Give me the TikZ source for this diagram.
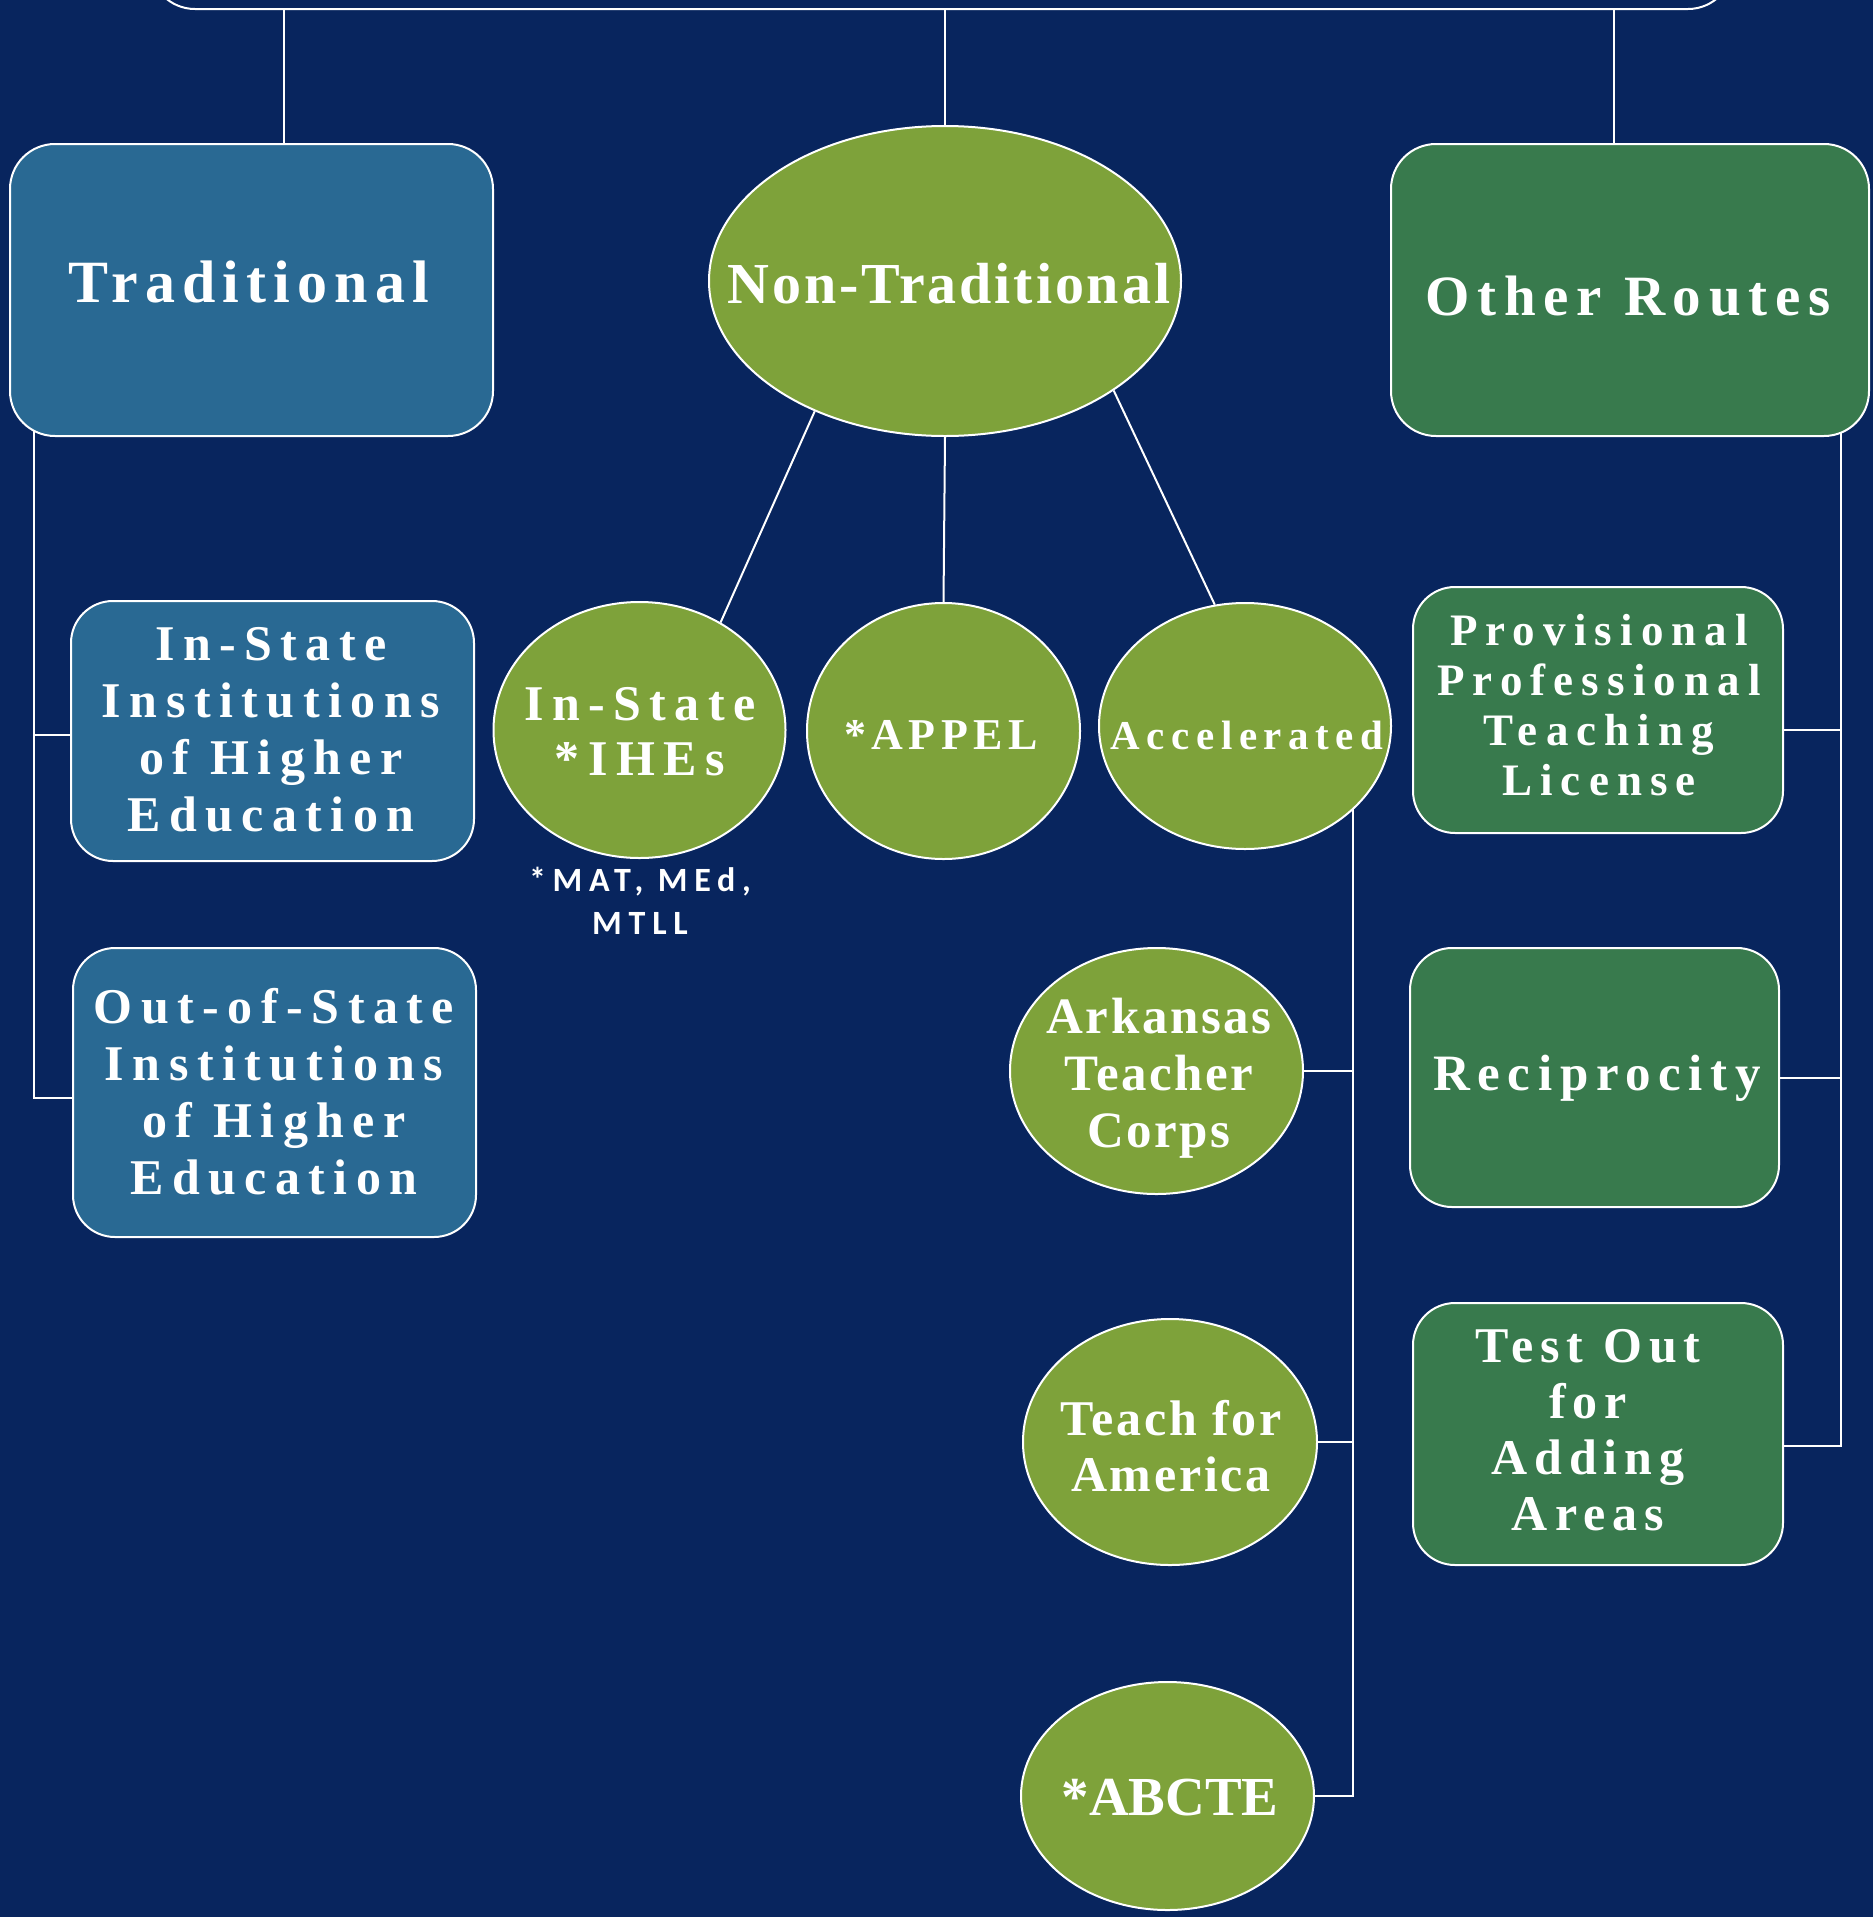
\documentclass[tikz,border=0pt]{standalone}
\usepackage{fontspec}
\setmainfont{Liberation Serif}
\newfontfamily\calib{Carlito}
\usetikzlibrary{shapes.geometric}
\definecolor{bgc}{RGB}{8,37,94}
\definecolor{bluec}{RGB}{41,105,147}
\definecolor{greenc}{RGB}{126,162,58}
\definecolor{dgreenc}{RGB}{56,122,77}
\pgfdeclarelayer{back}
\pgfdeclarelayer{lines}
\pgfsetlayers{back,lines,main}
\newcommand{\myfs}[3]{\fontsize{#1}{#2}\selectfont\bfseries\addfontfeature{LetterSpace=#3}}
\newcommand{\myfc}[3]{\calib\fontsize{#1}{#2}\selectfont\bfseries\addfontfeature{LetterSpace=#3}}
\tikzset{
  shapebase/.style={draw=white, line width=2pt, inner sep=0pt},
  bbox/.style={shapebase, rectangle, rounded corners=45pt, fill=bluec},
  gbox/.style={shapebase, rectangle, rounded corners=42pt, fill=dgreenc},
  gell/.style={shapebase, ellipse, fill=greenc},
  txt/.style={text=white, inner sep=0pt, align=center},
  conn/.style={draw=white, line width=2pt},
}
\begin{document}
\begin{tikzpicture}[x=1pt,y=-1pt]
\useasboundingbox (0,0) rectangle (1873,1917);
\begin{pgfonlayer}{back}
\fill[bgc] (0,0) rectangle (1873,1917);
\end{pgfonlayer}

% shapes
\node[shapebase, rounded corners=45pt, fill=bgc, minimum width=1583pt, minimum height=108pt] (top) at (941.5,-45) {};
\node[bbox, rounded corners=45pt, minimum width=483pt, minimum height=292pt] (trad) at (251.5,290) {};
\node[gell, minimum width=472pt, minimum height=310pt] (nt) at (945,281) {};
\node[gbox, fill=dgreenc, rounded corners=45pt, minimum width=478pt, minimum height=292pt] (oth) at (1630,290) {};

\node[bbox, rounded corners=42pt, minimum width=403pt, minimum height=260pt] (ins) at (272.5,731) {};
\node[bbox, rounded corners=42pt, minimum width=403pt, minimum height=289pt] (oos) at (274.5,1092.5) {};

\node[gell, minimum width=292pt, minimum height=256pt] (ihe) at (639.5,730) {};
\node[gell, minimum width=273pt, minimum height=256pt] (app) at (943.5,731) {};
\node[gell, minimum width=292pt, minimum height=246pt] (acc) at (1245,726) {};
\node[gell, minimum width=293pt, minimum height=246pt] (atc) at (1156.5,1071) {};
\node[gell, minimum width=294pt, minimum height=246pt] (tfa) at (1170,1442) {};
\node[gell, minimum width=293pt, minimum height=228pt] (abc) at (1167.5,1796) {};

\node[gbox, minimum width=370pt, minimum height=246pt] (prov) at (1598,710) {};
\node[gbox, minimum width=369pt, minimum height=259pt] (rec) at (1594.5,1077.5) {};
\node[gbox, minimum width=370pt, minimum height=262pt] (tst) at (1598,1434) {};

% texts
\node[txt, font=\myfs{60}{66}{12}] (tradt) at (249,282) {Traditional};
\node[txt, font=\myfs{58}{64}{5}] (ntt) at (949,284) {Non-Traditional};
\node[txt, font=\myfs{57}{63}{13.6}] (otht) at (1628,296) {Other Routes};
\node[txt, font=\myfs{50}{57}{17}] (inst) at (271,730) {In-State\\Institutions\\of Higher\\Education};
\node[txt, font=\myfs{50}{57}{17}] (oost) at (274,1092) {Out-of-State\\Institutions\\of Higher\\Education};
\node[txt, font=\myfs{50}{55}{17}] (ihet) at (640,732) {In-State\\*IHEs};
\node[txt, font=\myfs{44}{50}{12.5}] (appt) at (941,735) {*APPEL};
\node[txt, font=\myfs{41}{46}{16}] (acct) at (1247,735) {Accelerated};
\node[txt, font=\myfc{34}{43}{20}] (matt) at (640,901) {*MAT, MEd,\\MTLL};
\node[txt, font=\myfs{51}{57}{5}] (atct) at (1159,1078) {Arkansas\\Teacher\\Corps};
\node[txt, font=\myfs{50}{56}{5.5}] (tfat) at (1171,1446) {Teach for\\America};
\node[txt, font=\myfs{55}{60}{0}] (abct) at (1170,1798) {*ABCTE};
\node[txt, font=\myfs{45}{50}{18}] (provt) at (1599,705) {Provisional\\Professional\\Teaching\\License};
\node[txt, font=\myfs{51}{57}{15}] (rect) at (1597,1078) {Reciprocity};
\node[txt, font=\myfs{50}{56}{14}] (tstt) at (1588,1430) {Test Out\\for\\Adding\\Areas};

% connectors
\begin{pgfonlayer}{lines}
\coordinate (c1) at ([xshift=32.5pt]trad.north);
\coordinate (c3) at ([xshift=-16pt]oth.north);
\draw[conn] (c1) -- (c1 |- top.south);
\draw[conn] (nt.north) -- (nt.north |- top.south);
\draw[conn] (c3) -- (c3 |- top.south);

\coordinate (lsp) at (34,0);
\coordinate (insw) at ([yshift=-4pt]ins.west);
\coordinate (oosw) at ([yshift=-5.5pt]oos.west);
\draw[conn] (trad.center -| lsp) |- (oosw);
\draw[conn] (insw) -- (insw -| lsp);

\draw[conn] (nt.225) -- (ihe.53);
\draw[conn] (nt.south) -- (app.north);
\draw[conn] (nt.-33) -- (acc.104);

\coordinate (asp) at (1353,0);
\draw[conn] (acc.center -| asp) |- (abc.east);
\draw[conn] (atc.east) -- (atc.east -| asp);
\draw[conn] (tfa.east) -- (tfa.east -| asp);

\coordinate (rsp) at (1841,0);
\coordinate (prove) at ([yshift=-20pt]prov.east);
\coordinate (tste) at ([yshift=-12pt]tst.east);
\draw[conn] (oth.center -| rsp) |- (tste);
\draw[conn] (prove) -- (prove -| rsp);
\draw[conn] (rec.east) -- (rec.east -| rsp);
\end{pgfonlayer}
\end{tikzpicture}
\end{document}
